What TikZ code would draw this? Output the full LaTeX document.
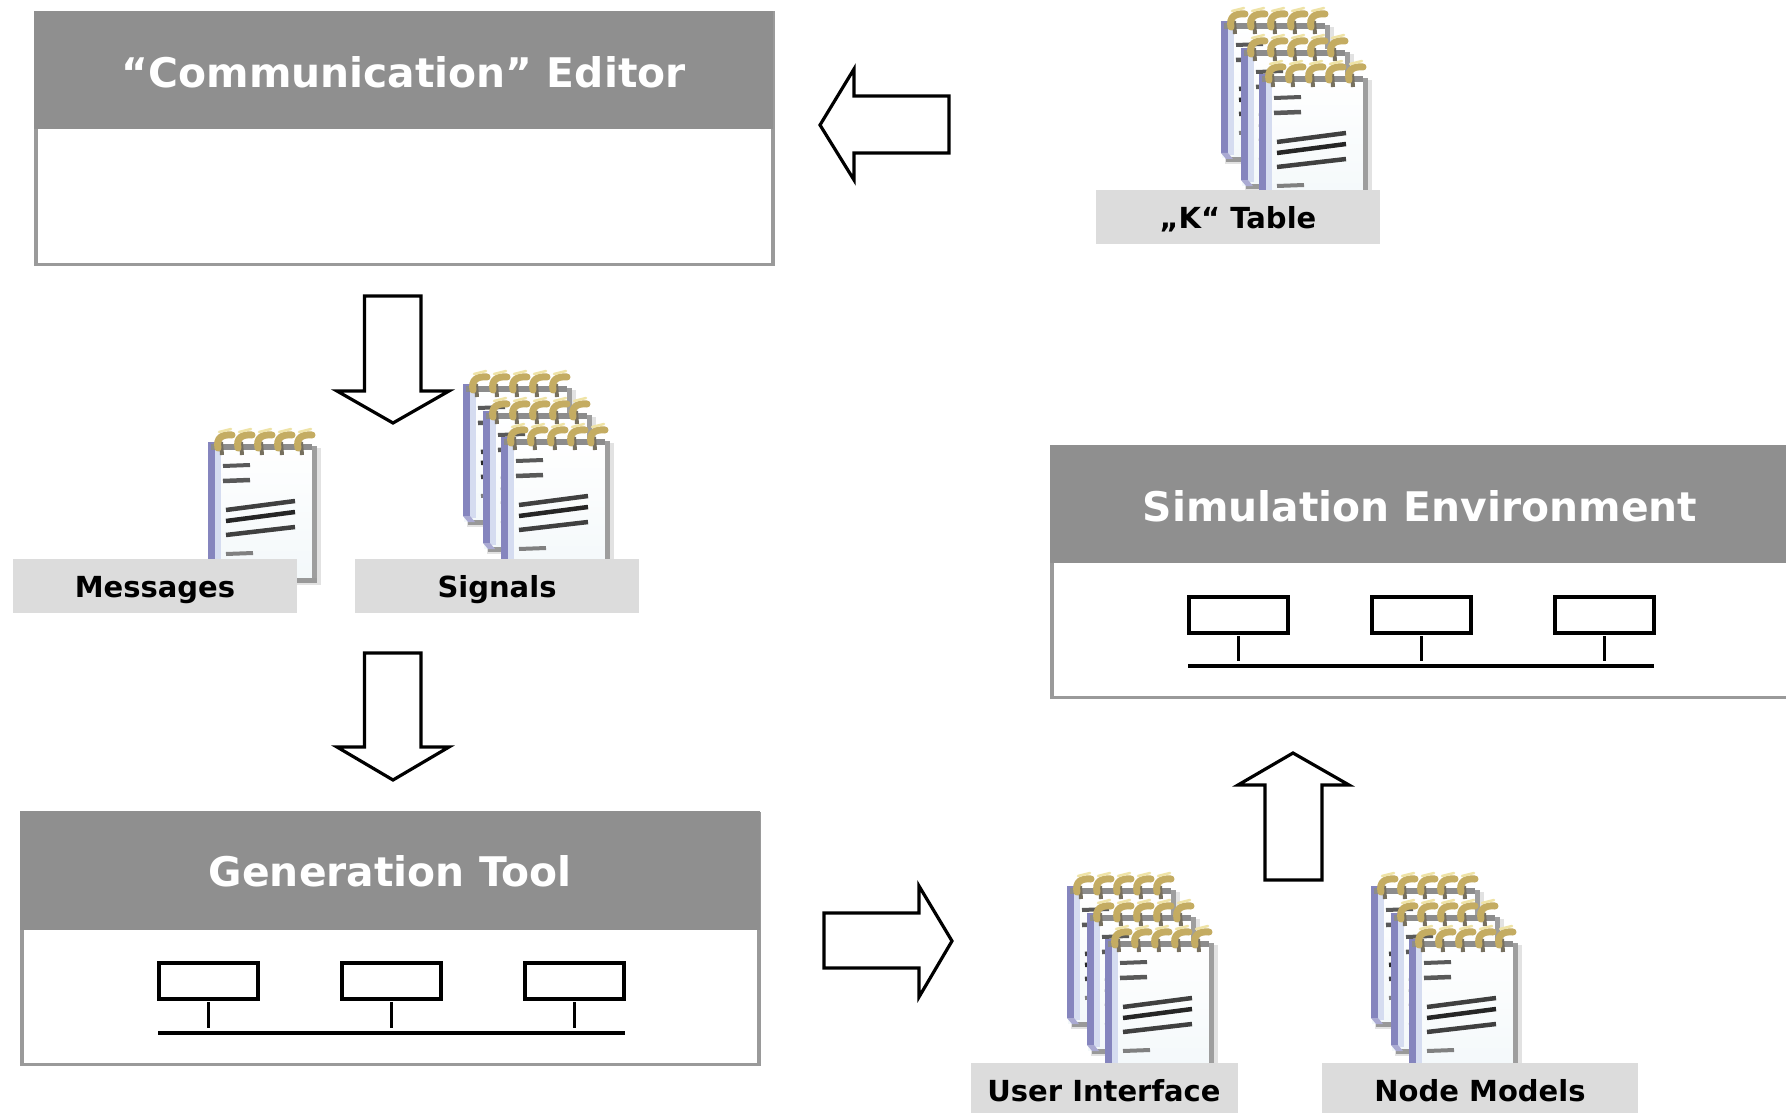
\documentclass[tikz,border=0pt]{standalone}
\usepackage{fontspec}
\setmainfont{DejaVu Sans}
\usetikzlibrary{positioning,calc}
\definecolor{hdr}{HTML}{8F8F8F}
\definecolor{frameg}{HTML}{9A9A9A}
\definecolor{lab}{HTML}{DCDCDC}
\definecolor{ringg}{HTML}{C4AC62}
\definecolor{ringl}{HTML}{EFE3A6}
\definecolor{ringd}{HTML}{77705F}
\definecolor{stripb}{HTML}{8585BE}
\definecolor{stripl}{HTML}{D5DCF0}
\definecolor{pageg}{HTML}{F3F8FA}
\tikzset{
  panel/.style={draw=frameg,line width=3.6pt,fill=white,inner sep=0pt,anchor=north west},
  header/.style={fill=hdr,text=white,inner sep=0pt,anchor=north west,text depth=0pt,font=\fontsize{40.8}{48}\selectfont\bfseries},
  tag/.style={fill=lab,text=black,inner sep=0pt,text depth=0pt,text height=24pt,font=\fontsize{29}{34}\selectfont\bfseries},
  blockarrow/.style={draw=black,line width=3.2pt,fill=white,miter limit=10},
  station/.style={draw=black,line width=4pt,fill=white,inner sep=0pt,minimum width=99pt,minimum height=36pt},
  bus/.style={draw=black,line width=4pt},
  stem/.style={draw=black,line width=3pt,shorten >=5pt,shorten <=1pt},
  notepad/.pic={
    \fill[black!14,opacity=.8] (4,20) rectangle (113,157);
    \shade[top color=white,bottom color=pageg] (1,16) rectangle (105,151);
    \fill[stripb] (0,14) rectangle (7,146);
    \fill[stripl] (7,16) rectangle (13,148);
    \fill[black!38] (104,18) rectangle (109,152);
    \fill[black!40] (5,150) rectangle (109,155);
    \fill[stripb!70!white] (0,146) -- (7,146) -- (12,152) -- (5,152) -- cycle;
    \fill[black!45] (3,16) rectangle (104,22);
    \foreach \rx in {10,30,50,70,90}{
      \draw[ringd,line width=4pt] (\rx+3,14) -- (\rx+4,27);
      \draw[ringg,line width=7pt,line cap=round] (\rx,20) .. controls (\rx-2,10) and (\rx+4,6) .. (\rx+14,7);
      \draw[ringl,line width=2.5pt,line cap=round] (\rx+1,4) -- (\rx+13,1);
    }
    \draw[black!65,line width=4pt] (15,38) -- (42,37);
    \draw[black!65,line width=4.5pt] (15,53) -- (42,52);
    \draw[black!75,line width=4.5pt] (18,82) -- (87,73);
    \draw[black!85,line width=4.5pt] (18,93) -- (87,84);
    \draw[black!75,line width=4.5pt] (18,107) -- (87,99);
    \draw[black!50,line width=4pt] (18,126) -- (45,125);
  },
  notestack/.pic={
    \pic at (0,0) {notepad};
    \pic at (20,27) {notepad};
    \pic at (38,53) {notepad};
  }
}
\begin{document}
\begin{tikzpicture}[x=1pt,y=-1pt]
\useasboundingbox (0,0) rectangle (1786,1113);
\fill[white] (0,0) rectangle (1786,1113);

% Communication editor
\node[panel,minimum width=737pt,minimum height=251pt] (edbox) at (34,11.5) {};
\node[header,text height=34pt,minimum width=739pt,minimum height=118pt] (edhead) at (34,11) {“Communication” Editor};

% Generation tool
\node[panel,minimum width=737pt,minimum height=251pt] (genbox) at (20,811.5) {};
\node[header,text height=32pt,minimum width=740pt,minimum height=119pt] (genhead) at (20,811) {Generation Tool};

% Simulation environment
\node[panel,minimum width=760pt,minimum height=250pt] (simbox) at (1050,445.5) {};
\node[header,minimum width=736pt,minimum height=118pt] (simhead) at (1050,445) {};
\node[text=white,font=\fontsize{40.8}{48}\selectfont\bfseries] (simtitle) at (1420,506) {Simulation Environment};

% Stacks of note pads
\pic at (1221,7) {notestack};
\pic at (463,370) {notestack};
\pic at (208,428) {notepad};
\pic at (1067,872) {notestack};
\pic at (1371,872) {notestack};

% Labels
\node[tag,text height=22pt,minimum width=284pt,minimum height=54pt] (ktable) at (1238,217) {„K“ Table};
\node[tag,minimum width=284pt,minimum height=54pt] (messages) at (155,585.5) {Messages};
\node[tag,minimum width=284pt,minimum height=54pt] (signals) at (497,585.5) {Signals};
\node[tag,text height=27pt,minimum width=267pt,minimum height=50pt] (ui) at (1104,1088) {User Interface};
\node[tag,text height=27pt,minimum width=316pt,minimum height=50pt] (nodemodels) at (1480,1088) {Node Models};

% Block arrows
\draw[blockarrow] (820,125) -- (854,69) -- (854,96) -- (949,96) -- (949,153) -- (854,153) -- (854,180) -- cycle;
\draw[blockarrow] (393,423) -- (337,391) -- (364.5,391) -- (364.5,296) -- (421,296) -- (421,391) -- (449,391) -- cycle;
\draw[blockarrow] (393,780) -- (337,747) -- (364.5,747) -- (364.5,653) -- (421,653) -- (421,747) -- (449,747) -- cycle;
\draw[blockarrow] (952,941) -- (919,886) -- (919,913) -- (824,913) -- (824,968) -- (919,968) -- (919,997) -- cycle;
\draw[blockarrow] (1293,753) -- (1238,785) -- (1265,785) -- (1265,880) -- (1322,880) -- (1322,785) -- (1349,785) -- cycle;

% Generation tool network
\node[station] (ga) at (208,981) {};
\node[station] (gb) at (391,981) {};
\node[station] (gc) at (574.5,981) {};
\coordinate (gbusl) at (158,1033);
\coordinate (gbusr) at (625,1033);
\coordinate (gpa) at (208,1033);
\coordinate (gpb) at (391,1033);
\coordinate (gpc) at (574.5,1033);
\draw[bus] (gbusl) -- (gbusr);
\draw[stem] (ga) -- (gpa);
\draw[stem] (gb) -- (gpb);
\draw[stem] (gc) -- (gpc);

% Simulation network
\node[station] (sa) at (1238,615) {};
\node[station] (sb) at (1421,615) {};
\node[station] (sc) at (1604.5,615) {};
\coordinate (sbusl) at (1188,666);
\coordinate (sbusr) at (1654,666);
\coordinate (spa) at (1238,666);
\coordinate (spb) at (1421,666);
\coordinate (spc) at (1604.5,666);
\draw[bus] (sbusl) -- (sbusr);
\draw[stem] (sa) -- (spa);
\draw[stem] (sb) -- (spb);
\draw[stem] (sc) -- (spc);
\end{tikzpicture}
\end{document}
